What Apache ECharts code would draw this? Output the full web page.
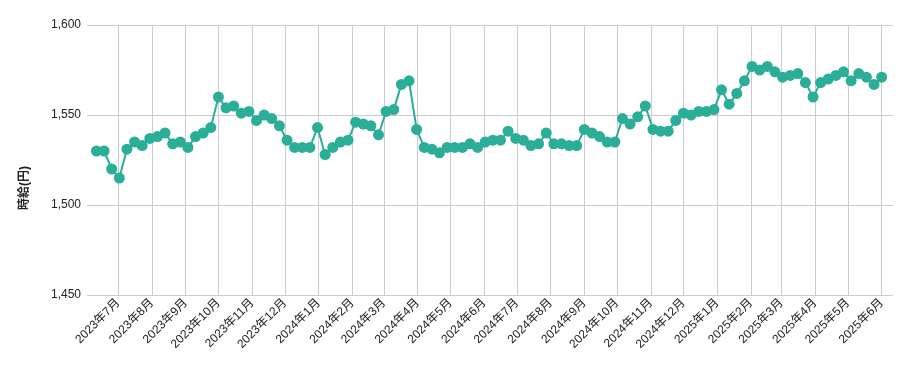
<!DOCTYPE html>
<html>
<head>
<meta charset="utf-8">
<script src="https://cdn.jsdelivr.net/npm/echarts@6/dist/echarts.min.js"></script>
<style>
html,body{margin:0;padding:0;background:#fff;}
#chart{width:911px;height:371px;}
</style>
</head>
<body>
<div id="chart"></div>
<script>
// Weekly observations (every Sunday) starting from this date
const firstWeek = [2023, 5, 11];
// Hourly wage (yen), one value per week
const wages = [
  1530, 1530, 1520, 1515, 1531, 1535, 1533, 1537, 1538, 1540,
  1534, 1535, 1532, 1538, 1540, 1543, 1560, 1554, 1555, 1551,
  1552, 1547, 1550, 1548, 1544, 1536, 1532, 1532, 1532, 1543,
  1528, 1532, 1535, 1536, 1546, 1545, 1544, 1539, 1552, 1553,
  1567, 1569, 1542, 1532, 1531, 1529, 1532, 1532, 1532, 1534,
  1532, 1535, 1536, 1536, 1541, 1537, 1536, 1533, 1534, 1540,
  1534, 1534, 1533, 1533, 1542, 1540, 1538, 1535, 1535, 1548,
  1545, 1549, 1555, 1542, 1541, 1541, 1547, 1551, 1550, 1552,
  1552, 1553, 1564, 1556, 1562, 1569, 1577, 1575, 1577, 1574,
  1571, 1572, 1573, 1568, 1560, 1568, 1570, 1572, 1574, 1569,
  1573, 1571, 1567, 1571
];
const yTicks = [1450, 1500, 1550, 1600];
const yAxisTitle = '時給(円)';
const axisStart = [2023, 5, 2, 8];
const axisEnd = [2025, 5, 11, 10];

const weekDates = wages.map((_, i) => new Date(firstWeek[0], firstWeek[1], firstWeek[2] + 7 * i).getTime());
const seriesData = wages.map((v, i) => [weekDates[i], v]);

const chart = echarts.init(document.getElementById('chart'), null, {renderer: 'canvas'});
const DAY = 86400000;
chart.setOption({
  animation: false,
  backgroundColor: '#ffffff',
  grid: {left: 87, right: 18, top: 25, bottom: 76, containLabel: false},
  xAxis: {
    type: 'time',
    min: new Date(...axisStart).getTime(),
    max: new Date(...axisEnd).getTime(),
    splitNumber: 30,
    minInterval: 28 * DAY,
    maxInterval: 31 * DAY,
    axisLine: {show: false},
    axisTick: {show: false},
    splitLine: {show: true, showMinLine: false, showMaxLine: false, lineStyle: {color: '#cccccc', width: 1}},
    axisLabel: {
      rotate: 45,
      margin: 6,
      color: '#222222',
      fontSize: 12,
      fontFamily: '"Liberation Sans", Arial, "Noto Sans CJK JP", sans-serif',
      showMinLabel: false,
      showMaxLabel: false,
      hideOverlap: false,
      formatter: function (val) {
        const d = new Date(val);
        return d.getFullYear() + '年' + (d.getMonth() + 1) + '月';
      }
    }
  },
  yAxis: {
    type: 'value',
    min: yTicks[0],
    max: yTicks[yTicks.length - 1],
    interval: yTicks[1] - yTicks[0],
    axisLine: {show: false},
    axisTick: {show: false},
    splitLine: {show: true, lineStyle: {color: '#cccccc', width: 1}},
    axisLabel: {
      margin: 6,
      color: '#222222',
      fontSize: 12,
      fontFamily: '"Liberation Sans", Arial, sans-serif',
      formatter: function (v) { return v.toLocaleString('en-US'); }
    }
  },
  graphic: [{
    type: 'text',
    left: 19,
    top: 166,
    rotation: Math.PI / 2,
    originX: 0, originY: 0,
    style: {
      text: yAxisTitle,
      font: 'bold 12px "Liberation Sans", "Noto Sans CJK JP", sans-serif',
      fill: '#222222'
    }
  }],
  series: [{
    type: 'line',
    data: seriesData,
    symbol: 'circle',
    symbolSize: 11,
    showAllSymbol: true,
    lineStyle: {color: '#2bae98', width: 2},
    itemStyle: {color: '#2bae98'},
    emphasis: {disabled: true}
  }]
});
</script>
</body>
</html>
